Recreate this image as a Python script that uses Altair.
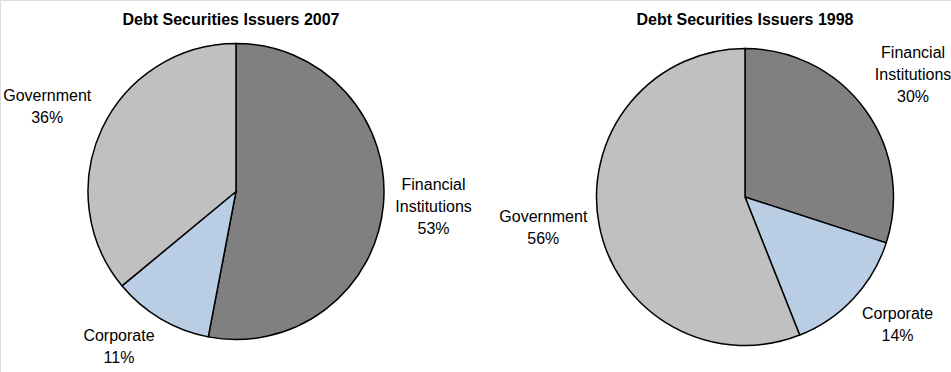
import altair as alt
import pandas as pd

categories = ["Financial Institutions", "Corporate", "Government"]
label_lines = ["Financial\nInstitutions", "Corporate", "Government"]
shares_2007 = [53, 11, 36]
shares_1998 = [30, 14, 56]
titles = ["Debt Securities Issuers 2007", "Debt Securities Issuers 1998"]
colors = ["#808080", "#B9CDE5", "#C0C0C0"]

FONT = "Liberation Sans"
FS = 16
LH = 22

# approximate Arial advance widths (per 1000 em) used to size label boxes
ADV = {"F": 611, "i": 222, "n": 556, "a": 556, "c": 500, "l": 222, "I": 278,
       "s": 500, "t": 278, "u": 556, "o": 556, "%": 889, "C": 722, "r": 333,
       "p": 556, "e": 556, "G": 778, "v": 500, "m": 833, " ": 278}


def text_width(line):
    return sum(ADV.get(ch, 556) for ch in line) * FS / 1000.0


def frame(values):
    labels = [f"{l}\n{v}%" for l, v in zip(label_lines, values)]
    return pd.DataFrame({
        "category": categories,
        "share": values,
        "rank": list(range(len(categories))),
        "label": labels,
        "lines": [lab.count("\n") + 1 for lab in labels],
        "w": [max(text_width(x) for x in lab.split("\n")) for lab in labels],
    })


color = alt.Color("category:N", scale=alt.Scale(domain=categories, range=colors), legend=None)


def pie(values, title, cx, cy, r, tx):
    df = frame(values)
    base = alt.Chart(df)
    arc = base.mark_arc(outerRadius=r, stroke="black", strokeWidth=1.5).encode(
        theta=alt.Theta("share:Q", stack=True),
        order=alt.Order("rank:Q"),
        color=color,
        x=alt.value(cx),
        y=alt.value(cy),
    )
    R = r + 12
    lab = (
        base.transform_window(cum="sum(share)", sort=[alt.SortField("rank")])
        .transform_joinaggregate(total="sum(share)")
        .transform_calculate(a="2*PI*(datum.cum - datum.share/2)/datum.total")
        .transform_calculate(s="sin(datum.a)", c="cos(datum.a)")
        .transform_calculate(
            hx="abs(datum.s) < 0.2 ? 0 : (datum.s > 0 ? 1 : -1)",
            hy="abs(datum.c) < 0.2 ? 0 : (datum.c > 0 ? 1 : -1)",
        )
        .transform_calculate(
            lx=f"{cx} + {R}*datum.s + datum.hx*datum.w/2",
            ly=f"{cy} - {R}*datum.c - datum.hy*(12 + (datum.lines-1)*{LH})/2"
               f" - (14.5 + (datum.lines-1)*{LH})/2",
        )
    )
    text = lab.mark_text(
        font=FONT, fontSize=FS, lineBreak="\n", lineHeight=LH,
        color="black", align="center", baseline="top",
    ).encode(
        text="label:N",
        x=alt.X("lx:Q", scale=None),
        y=alt.Y("ly:Q", scale=None),
    )
    ttl = alt.Chart(pd.DataFrame({"t": [title]})).mark_text(
        font=FONT, fontSize=16, fontWeight="bold", color="black",
        align="center", baseline="alphabetic",
    ).encode(text="t:N", x=alt.value(tx), y=alt.value(25))
    return [arc, text, ttl]


layers = pie(shares_2007, titles[0], 236, 191.5, 148, 231) + \
         pie(shares_1998, titles[1], 745, 197, 148.5, 745)

chart = alt.layer(*layers).properties(
    width=951, height=372, padding=0,
    autosize=alt.AutoSizeParams(type="none"),
).configure_view(stroke=None).configure(background="white")

chart.save("out.html", embed_options={"renderer": "svg", "actions": False})
